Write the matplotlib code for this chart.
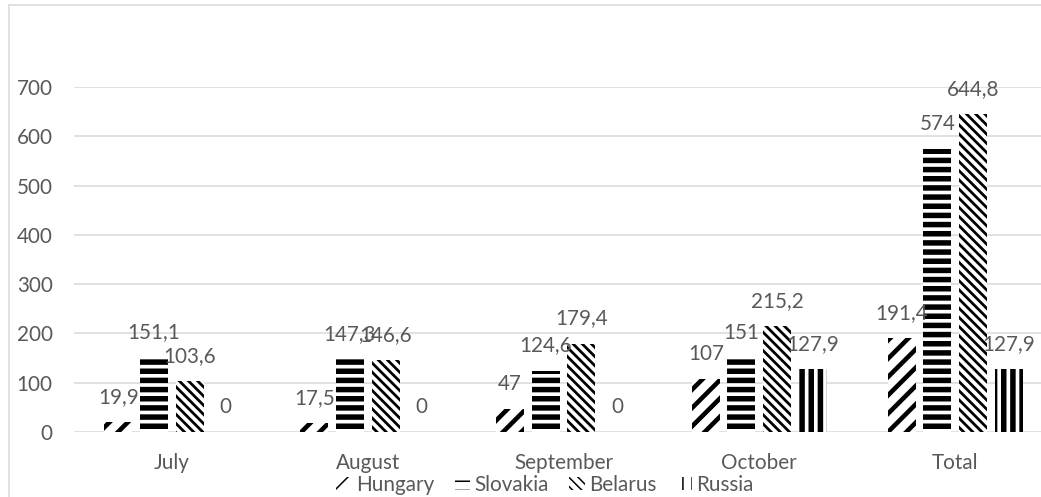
import numpy as np
import matplotlib.pyplot as plt
import matplotlib.patches as mpatches

# data
months = ["July", "August", "September", "October", "Total"]
countries = ["Hungary", "Slovakia", "Belarus", "Russia"]
hungary = [19.9, 17.5, 47, 107, 191.4]
slovakia = [151.1, 147.3, 124.6, 151, 574]
belarus = [103.6, 146.6, 179.4, 215.2, 644.8]
russia = [0, 0, 0, 127.9, 127.9]
series = [hungary, slovakia, belarus, russia]

hatches = ["//", "--", "\\\\\\\\", "||"]
hatch_lw = [3.0, 3.6, 1.8, 3.6]

plt.rcParams['font.family'] = ['Lato', 'DejaVu Sans']
grey = "#595959"

dpi = 110
fig = plt.figure(figsize=(1041 / dpi, 497 / dpi), dpi=dpi)
ax = fig.add_axes([74 / 1041, 65 / 497, (1053 - 74) / 1041, (432 - 87) / 497])

x = np.arange(len(months))
step = 0.182
width = 0.143

for k, vals in enumerate(series):
    with plt.rc_context({'hatch.linewidth': hatch_lw[k]}):
        bars = ax.bar(x + (k - 1.5) * step, vals, width, color="white",
                      edgecolor="black", linewidth=0, hatch=hatches[k],
                      label=countries[k], zorder=3)
    for b, v in zip(bars, vals):
        txt = f"{v:g}".replace(".", ",")
        ax.annotate(txt, (b.get_x() + b.get_width() / 2, v),
                    xytext=(0, 16.4), textcoords="offset points",
                    ha="center", va="center", fontsize=13.5, color=grey, zorder=4)

ax.set_xlim(-0.5, 4.5)
ax.set_ylim(0, 700)
ax.set_yticks(range(0, 701, 100))
ax.set_xticks(x)
ax.set_xticklabels(months)
ax.tick_params(axis="both", length=0, labelsize=13.5, labelcolor=grey)
ax.tick_params(axis="x", pad=14)
ax.tick_params(axis="y", pad=14)
ax.grid(axis="y", color="#d9d9d9", linewidth=1.0, zorder=0)
for s in ax.spines.values():
    s.set_visible(False)

ax.legend(loc="center", bbox_to_anchor=(545 / 1041, 1 - 485 / 497),
          bbox_transform=fig.transFigure, ncol=4, frameon=False,
          fontsize=13.5, labelcolor=grey, handlelength=0.75, handleheight=0.55,
          handletextpad=0.2, columnspacing=1.0, borderpad=0)

# chart area border (only left/top visible in the crop)
fig.add_artist(mpatches.Rectangle((9 / 1041, -0.1), 1.2, 1.1 - 5 / 497,
                                  transform=fig.transFigure, fill=False,
                                  edgecolor="#d9d9d9", linewidth=1.0))

plt.savefig("out.png", dpi=dpi)
